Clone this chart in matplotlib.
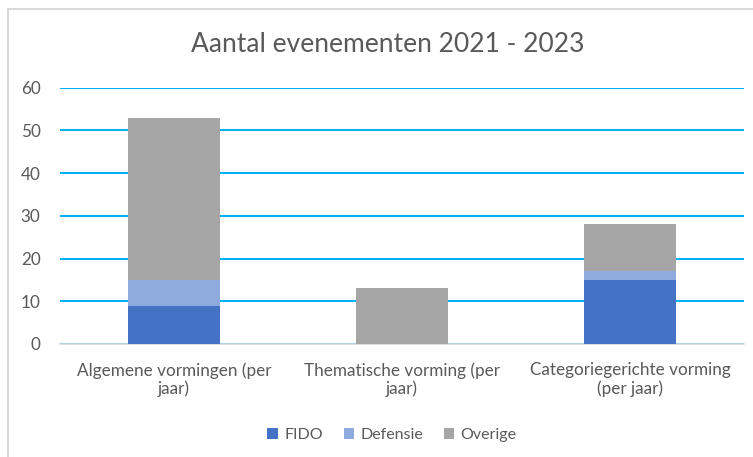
import matplotlib.pyplot as plt
from matplotlib.patches import Rectangle

categories = ["Algemene vormingen (per\njaar)", "Thematische vorming (per\njaar)",
              "Categoriegerichte vorming\n(per jaar)"]
fido = [9, 0, 15]
defensie = [6, 0, 2]
overige = [38, 13, 11]

plt.rcParams["font.family"] = ["Lato", "DejaVu Sans"]
text_color = "#595959"

fig = plt.figure(figsize=(7.53, 4.57), dpi=100)
ax = fig.add_axes([60 / 753, 1 - 344 / 457, 684 / 753, (344 - 87.7) / 457])

x = list(range(len(categories)))
width = 0.4
bottom2 = [a + b for a, b in zip(fido, defensie)]
ax.bar(x, fido, width, color="#4472C4", label="FIDO", zorder=3)
ax.bar(x, defensie, width, bottom=fido, color="#8FAADC", label="Defensie", zorder=3)
ax.bar(x, overige, width, bottom=bottom2, color="#A5A5A5", label="Overige", zorder=3)

ax.set_xlim(-0.5, 2.5)
ax.set_ylim(0, 60)
ax.set_yticks(range(0, 61, 10))
ax.yaxis.grid(True, color="#00B0F0", linewidth=1.5, zorder=0)
ax.set_axisbelow(True)
for side in ["top", "right", "left"]:
    ax.spines[side].set_visible(False)
ax.spines["bottom"].set_color("#D9D9D9")
ax.spines["bottom"].set_linewidth(1.2)
ax.tick_params(axis="both", length=0, colors=text_color, labelsize=12.3)
ax.tick_params(axis="y", pad=14)
ax.tick_params(axis="x", pad=13)
ax.set_xticks(x)
ax.set_xticklabels(categories, linespacing=1.15)

fig.text(388 / 753, 1 - 45 / 457, "Aantal evenementen 2021 - 2023", ha="center", va="center",
         fontsize=19, color=text_color)

ax.legend(loc="center", bbox_to_anchor=(392 / 753, 1 - 435 / 457), bbox_transform=fig.transFigure,
          ncol=3, frameon=False, fontsize=11.5, labelcolor=text_color, handlelength=0.65,
          handleheight=0.65, handletextpad=0.4, columnspacing=1.3)

fig.patches.append(Rectangle((8 / 753, -10 / 457), 760 / 753, 458 / 457, transform=fig.transFigure,
                             fill=False, edgecolor="#D9D9D9", linewidth=1.5))

fig.savefig("out.png", dpi=100)
